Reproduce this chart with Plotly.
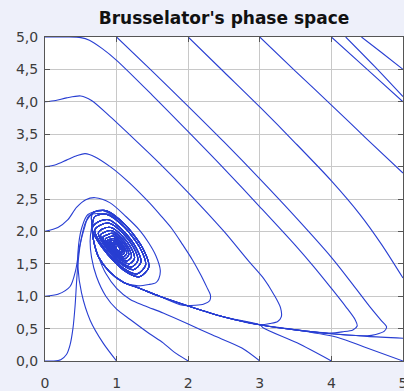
import plotly.graph_objects as go

# ---- data (phase-space trajectories: x, y) ----
# spiral around the stable focus (1, 1.75), clockwise, two slightly different windings
spiral_x = [0.66, 0.85, 1.12, 1.36, 1.45, 1.32, 1.10, 0.82, 0.66,
            0.745, 0.89, 1.09, 1.27, 1.34, 1.24, 1.075, 0.865, 0.745,
            0.81, 0.92, 1.07, 1.20, 1.25, 1.18, 1.055, 0.90, 0.81,
            0.87, 0.94, 1.05, 1.14, 1.17, 1.12, 1.04, 0.93, 0.87,
            0.915, 0.96, 1.03, 1.09, 1.11, 1.08, 1.025, 0.955, 0.915,
            0.95, 0.98, 1.02, 1.05, 1.07, 1.05, 1.015, 0.975, 0.95, 1.0]
spiral_y = [2.28, 2.32, 2.10, 1.75, 1.45, 1.30, 1.40, 1.72, 2.05,
            2.15, 2.18, 2.01, 1.75, 1.525, 1.41, 1.49, 1.73, 1.975,
            2.04, 2.06, 1.94, 1.75, 1.585, 1.50, 1.56, 1.73, 1.915,
            1.95, 1.97, 1.88, 1.75, 1.64, 1.58, 1.62, 1.74, 1.86,
            1.88, 1.89, 1.84, 1.75, 1.675, 1.64, 1.66, 1.74, 1.825,
            1.83, 1.84, 1.80, 1.75, 1.70, 1.68, 1.70, 1.745, 1.80, 1.75]

spiral2_x = [0.694, 0.865, 1.108, 1.324, 1.405, 1.288, 1.09, 0.838, 0.694,
             0.776, 0.901, 1.079, 1.238, 1.297, 1.211, 1.066, 0.881, 0.776,
             0.844, 0.931, 1.055, 1.166, 1.207, 1.147, 1.046, 0.917, 0.844,
             0.895, 0.953, 1.037, 1.112, 1.14, 1.099, 1.031, 0.944, 0.895,
             0.932, 0.97, 1.024, 1.072, 1.09, 1.064, 1.02, 0.964, 0.932,
             0.966, 0.985, 1.012, 1.036, 1.045, 1.032, 1.01, 0.982, 0.966, 1.0]
spiral2_y = [2.227, 2.263, 2.065, 1.75, 1.48, 1.345, 1.435, 1.723, 2.02,
             2.10, 2.126, 1.981, 1.75, 1.552, 1.453, 1.519, 1.73, 1.948,
             1.994, 2.012, 1.911, 1.75, 1.612, 1.543, 1.589, 1.736, 1.888,
             1.914, 1.927, 1.859, 1.75, 1.657, 1.61, 1.641, 1.741, 1.843,
             1.856, 1.864, 1.82, 1.75, 1.69, 1.66, 1.68, 1.744, 1.81,
             1.803, 1.807, 1.785, 1.75, 1.72, 1.705, 1.715, 1.747, 1.78, 1.75]

# slow-manifold bundle (lower-right trajectories end along it)
bundle_x = [5.0, 4.5, 4.0, 3.5, 3.0, 2.5, 2.0, 1.6, 1.3, 1.1, 0.9, 0.75, 0.68, 0.66]
bundle_y = [0.35, 0.38, 0.42, 0.48, 0.56, 0.68, 0.85, 1.0, 1.13, 1.21, 1.38, 1.6, 1.85, 2.05]

# trajectories from the left edge and from the bottom edge
t00_x = [0.0, 0.12, 0.22, 0.30, 0.35, 0.39, 0.42, 0.44, 0.46, 0.50, 0.57, 0.67, 0.78]
t00_y = [0.0, 0.0, 0.02, 0.10, 0.25, 0.50, 0.85, 1.20, 1.50, 1.85, 2.15, 2.28, 2.33]

t01_x = [0.0, 0.18, 0.35, 0.43, 0.48, 0.55, 0.62]
t01_y = [1.0, 1.03, 1.15, 1.41, 1.75, 2.05, 2.25]

t10_x = [1.0, 0.81, 0.63, 0.51, 0.46, 0.47, 0.52, 0.60]
t10_y = [0.0, 0.28, 0.63, 1.05, 1.45, 1.80, 2.08, 2.26]

t20_x = [2.0, 1.8, 1.65, 1.46, 1.19, 1.0, 0.85, 0.72, 0.65, 0.63, 0.65]
t20_y = [0.0, 0.14, 0.28, 0.42, 0.64, 0.80, 1.00, 1.30, 1.60, 1.85, 2.05]

t30_x = [3.0, 2.75, 2.34, 2.0, 1.65, 1.40, 1.19, 1.0, 0.85]
t30_y = [0.0, 0.20, 0.40, 0.57, 0.74, 0.85, 0.95, 1.12, 1.35]

t40_x = [4.0, 3.52, 3.05]
t40_y = [0.0, 0.28, 0.51]

t50_x = [5.0, 4.45, 4.1]
t50_y = [0.0, 0.22, 0.36]

t02_x = [0.0, 0.18, 0.32, 0.44, 0.57, 0.70, 0.91, 1.13, 1.32, 1.45, 1.55, 1.61, 1.59, 1.55, 1.45, 1.30]
t02_y = [2.0, 2.06, 2.18, 2.37, 2.49, 2.52, 2.44, 2.23, 2.02, 1.82, 1.62, 1.40, 1.27, 1.21, 1.18, 1.16]

t03_x = [0.0, 0.15, 0.30, 0.45, 0.56, 0.70, 0.91, 1.13, 1.32, 1.46, 1.62, 1.78, 1.92, 2.06, 2.18, 2.26, 2.31, 2.30, 2.22, 2.10, 1.92]
t03_y = [3.0, 3.03, 3.10, 3.17, 3.20, 3.15, 3.00, 2.80, 2.60, 2.44, 2.24, 2.03, 1.80, 1.56, 1.32, 1.14, 1.02, 0.93, 0.88, 0.86, 0.86]

# trajectories from the top edge
t04_x = [0.0, 0.15, 0.30, 0.50, 0.65, 0.91, 1.25, 1.60, 2.00, 2.50, 2.83, 3.05, 3.20, 3.29, 3.30, 3.25, 3.15, 3.0]
t04_y = [4.0, 4.02, 4.06, 4.09, 4.02, 3.77, 3.42, 3.05, 2.60, 2.00, 1.56, 1.28, 1.02, 0.82, 0.68, 0.61, 0.58, 0.56]

t05_x = [0.0, 0.30, 0.50, 0.62, 0.80, 1.00, 1.50, 2.00, 2.50, 3.00, 3.50, 3.75, 4.00, 4.20, 4.33, 4.36, 4.30, 4.15, 4.0]
t05_y = [5.0, 5.0, 4.99, 4.95, 4.82, 4.64, 4.10, 3.54, 2.97, 2.38, 1.78, 1.46, 1.12, 0.84, 0.64, 0.54, 0.48, 0.45, 0.43]

t15_x = [1.0, 1.50, 2.00, 2.50, 3.00, 3.50, 4.00, 4.30, 4.55, 4.70, 4.77, 4.74, 4.62, 4.5]
t15_y = [5.0, 4.47, 3.93, 3.38, 2.81, 2.22, 1.60, 1.18, 0.82, 0.62, 0.53, 0.46, 0.41, 0.39]

t25_x = [2.0, 2.5, 3.0, 3.5, 4.0, 4.4, 4.7, 5.0]
t25_y = [5.0, 4.46, 3.92, 3.36, 2.78, 2.26, 1.80, 1.28]

t35_x = [3.0, 3.5, 4.0, 4.5, 5.0]
t35_y = [5.0, 4.47, 3.95, 3.42, 2.90]

t45_x = [4.0, 4.5, 5.0]
t45_y = [5.0, 4.5, 4.0]

t_a_x = [4.2, 4.6, 5.0]
t_a_y = [5.0, 4.55, 4.08]

t_b_x = [4.42, 4.7, 5.0]
t_b_y = [5.0, 4.76, 4.5]

LINE = "rgb(40,62,210)"

fig = go.Figure()

def add(xs, ys):
    fig.add_trace(go.Scatter(x=xs, y=ys, mode="lines",
                             line=dict(color=LINE, width=1.1, shape="spline", smoothing=0.8),
                             hoverinfo="skip", showlegend=False))

# curves that go straight into the spiral
add(t00_x + spiral_x[2:], t00_y + spiral_y[2:])
add(t01_x + spiral2_x[1:], t01_y + spiral2_y[1:])
add(t10_x + spiral_x[1:], t10_y + spiral_y[1:])
add(t20_x + spiral2_x[0:], t20_y + spiral2_y[0:])
# curves that reach the bundle and then spiral
add(t02_x + bundle_x[9:] + spiral_x, t02_y + bundle_y[9:] + spiral_y)
add(t03_x + bundle_x[7:] + spiral2_x, t03_y + bundle_y[7:] + spiral2_y)
add(t30_x + bundle_x[11:] + spiral_x, t30_y + bundle_y[11:] + spiral_y)
add(t04_x + bundle_x[5:] + spiral2_x, t04_y + bundle_y[5:] + spiral2_y)
add(t40_x + bundle_x[4:] + spiral_x, t40_y + bundle_y[4:] + spiral_y)
add(t50_x + bundle_x[3:] + spiral2_x, t50_y + bundle_y[3:] + spiral2_y)
add(t05_x + bundle_x[3:] + spiral_x, t05_y + bundle_y[3:] + spiral_y)
add(t15_x + bundle_x[2:] + spiral2_x, t15_y + bundle_y[2:] + spiral2_y)
add(bundle_x + spiral_x, bundle_y + spiral_y)
# curves leaving through the right edge
add(t25_x, t25_y)
add(t35_x, t35_y)
add(t45_x, t45_y)
add(t_a_x, t_a_y)
add(t_b_x, t_b_y)

axis_common = dict(
    showgrid=True, gridcolor="#c8c8c8", gridwidth=1,
    showline=True, linecolor="#555555", linewidth=1, mirror="ticks",
    ticks="inside", ticklen=5, tickcolor="#555555",
    zeroline=False, automargin=False, ticklabeloverflow="allow",
    tickfont=dict(family="DejaVu Sans", size=14, color="#3c3c3c"),
)

fig.update_layout(
    width=404, height=391,
    margin=dict(l=45, r=1, t=37, b=30, autoexpand=False),
    paper_bgcolor="#eef0fa", plot_bgcolor="white",
    separators=",.",
    title=dict(text="<b>Brusselator's phase space</b>",
               font=dict(family="DejaVu Sans", size=17, color="#111111"),
               x=0.5, xref="paper", xanchor="center",
               y=1 - 18 / 391, yref="container", yanchor="middle"),
    xaxis=dict(range=[0, 5], tickvals=[0, 1, 2, 3, 4, 5], tickformat="d",
               ticklabelstandoff=9, **axis_common),
    yaxis=dict(range=[0, 5], tickvals=[0, 0.5, 1, 1.5, 2, 2.5, 3, 3.5, 4, 4.5, 5],
               tickformat=".1f", ticklabelstandoff=3, **axis_common),
)

fig.write_html("out.html",
               config={"displayModeBar": False, "staticPlot": True},
               post_script="document.body.style.margin='0';document.body.style.padding='0';"
                           "document.body.style.overflow='hidden';")
